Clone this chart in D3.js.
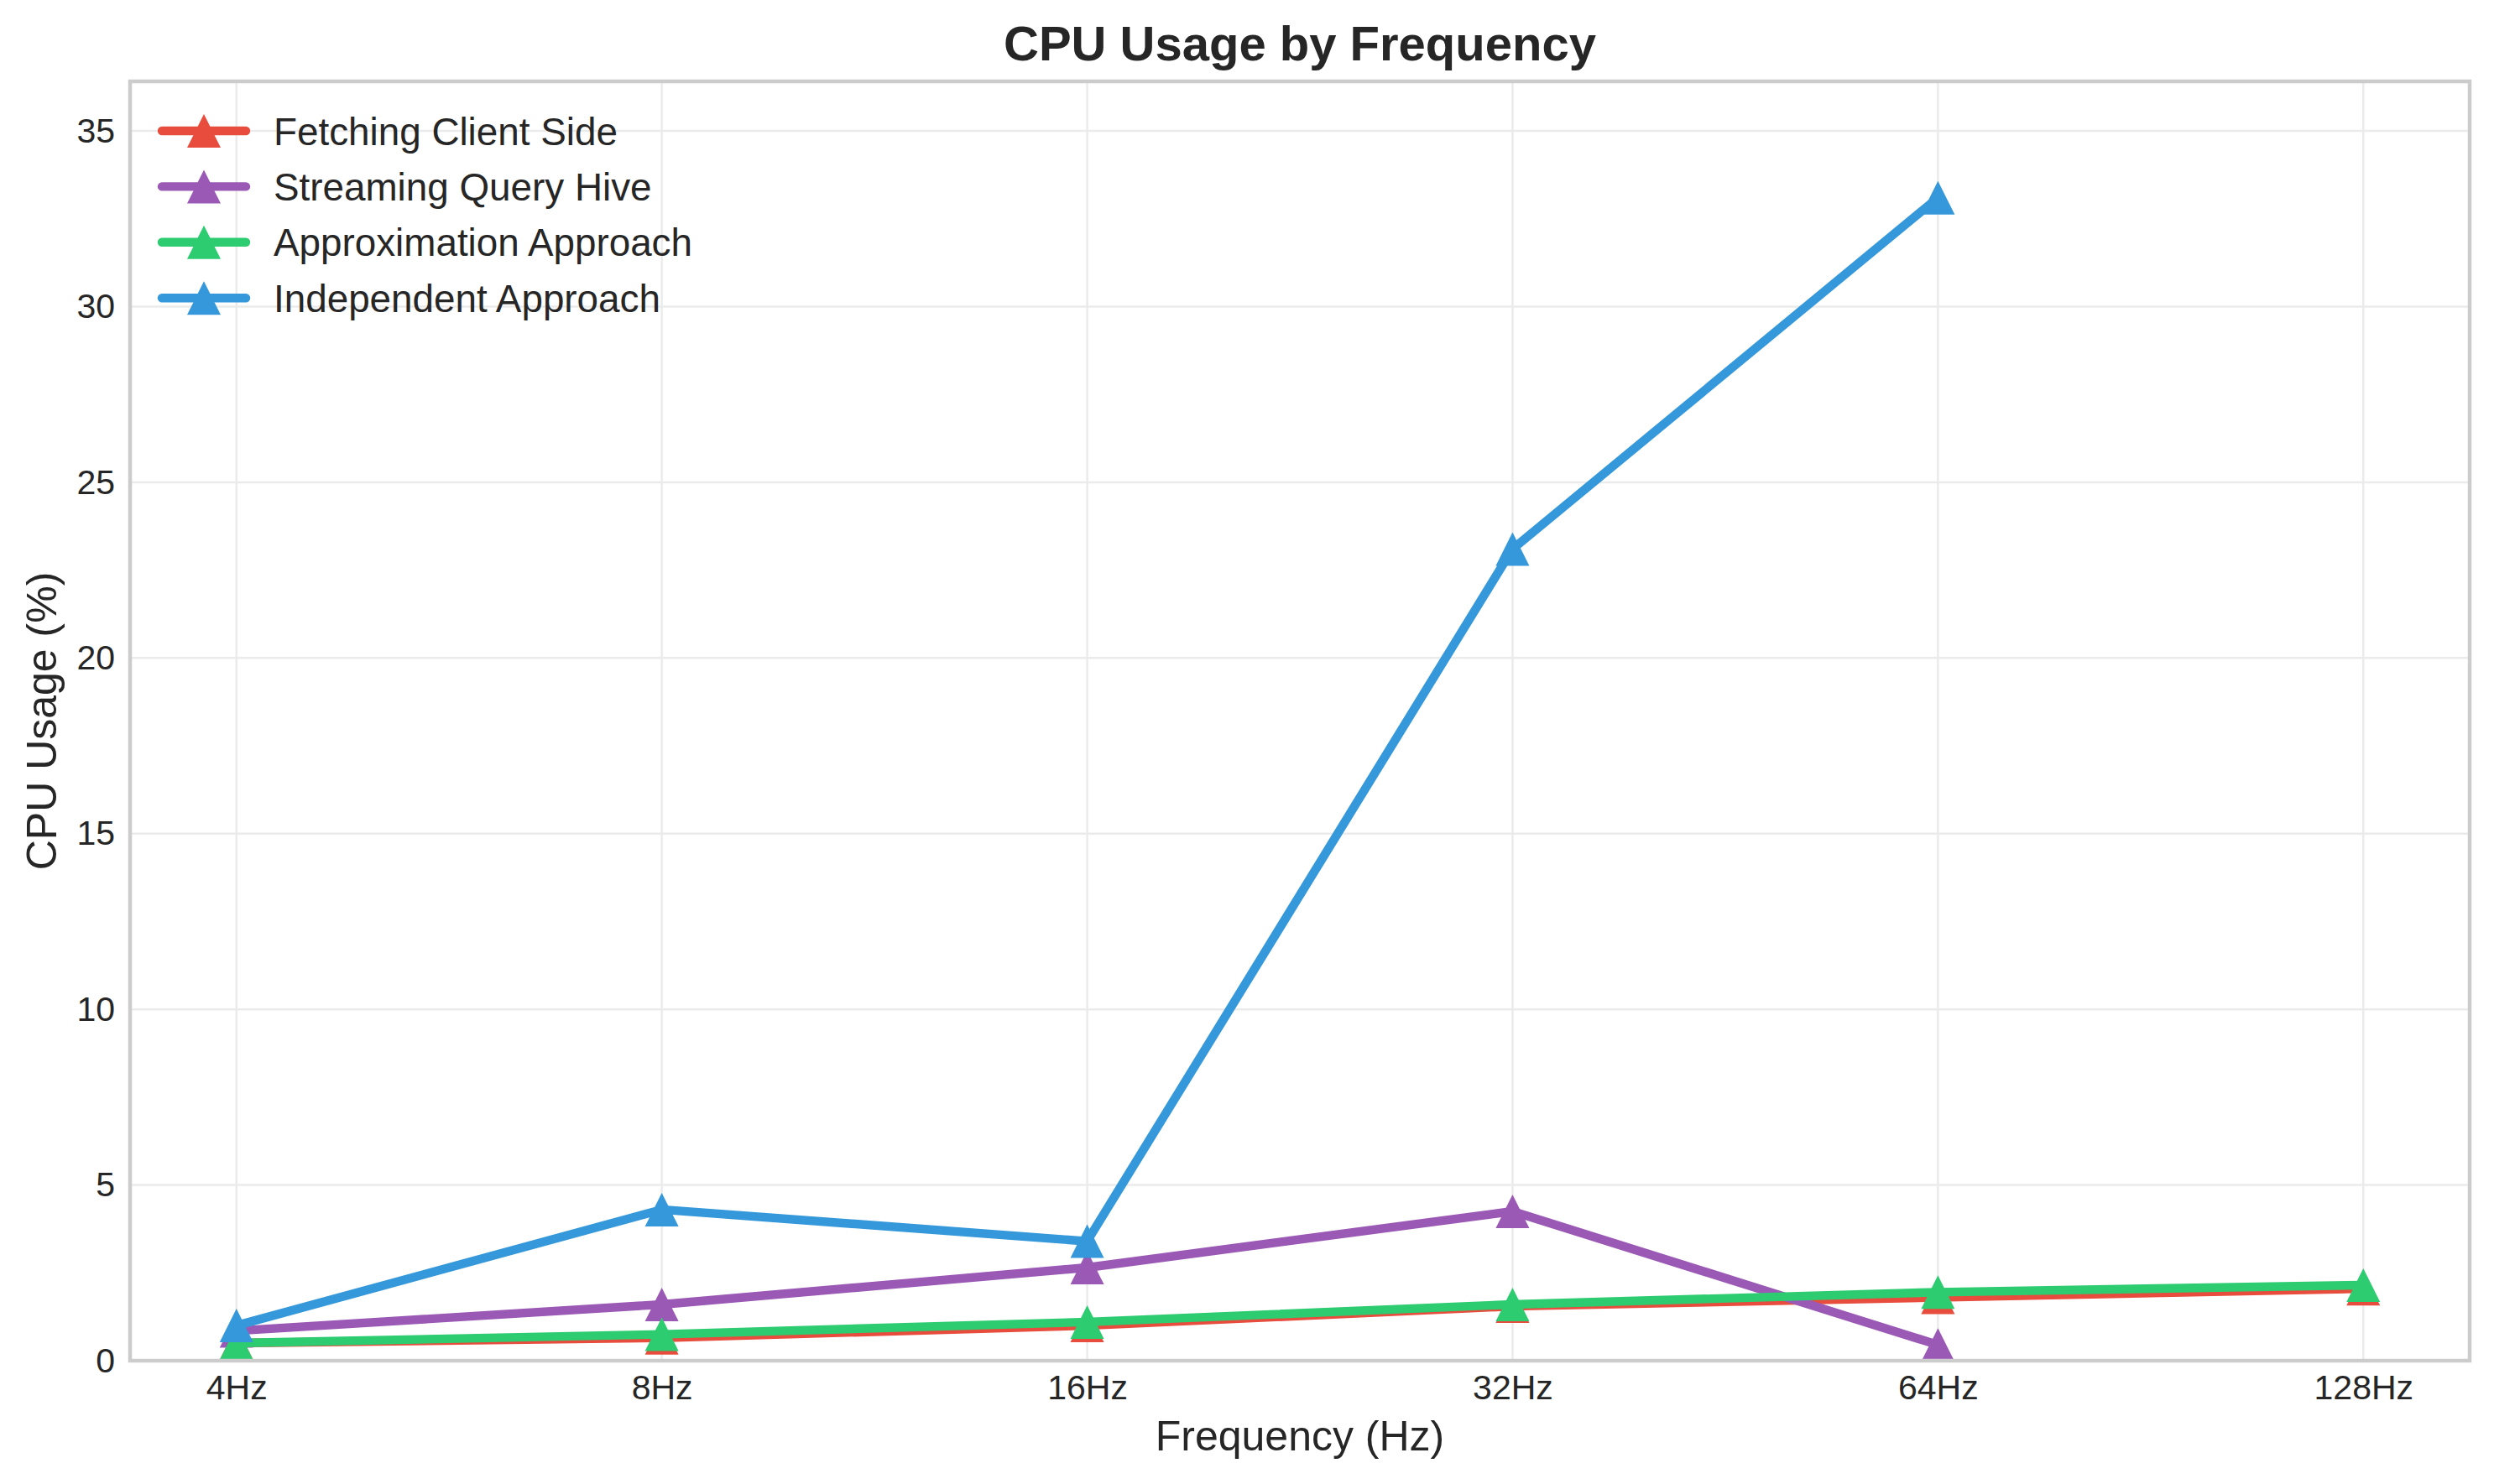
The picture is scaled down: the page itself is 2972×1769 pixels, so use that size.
<!DOCTYPE html>
<head>
  <meta charset="utf-8" />
  <script src="https://d3js.org/d3.v7.min.js"></script>
  <style>
    body {
      margin: 0;
      background: #fff;
    }
    text {
      font-family: "Liberation Sans", Arial, sans-serif;
      fill: #262626;
    }
    .domain {
      display: none;
    }
  </style>
</head>

<body>
  <script>
    // valeurs
    var frequencies = ["4Hz", "8Hz", "16Hz", "32Hz", "64Hz", "128Hz"];
    var fetchingClient = [0.5, 0.65, 1.0, 1.55, 1.8, 2.05];
    var streamingHive = [0.85, 1.6, 2.65, 4.25, 0.45];
    var approximation = [0.5, 0.75, 1.1, 1.6, 1.95, 2.15];
    var independent = [1.0, 4.3, 3.4, 23.1, 33.1];
    var yTicks = [0, 5, 10, 15, 20, 25, 30, 35];

    var seriesNames = [
      "Fetching Client Side",
      "Streaming Query Hive",
      "Approximation Approach",
      "Independent Approach"
    ];
    var seriesColors = ["#e74c3c", "#9b59b6", "#2ecc71", "#3498db"];
    var seriesValues = [fetchingClient, streamingHive, approximation, independent];

    var width = 2972,
      height = 1769;
    var margin = { top: 97, right: 29, bottom: 147, left: 155 };
    var innerW = width - margin.left - margin.right,
      innerH = height - margin.top - margin.bottom;

    var svg = d3
      .select("body")
      .append("svg")
      .attr("width", width)
      .attr("height", height);

    var g = svg
      .append("g")
      .attr("transform", "translate(" + margin.left + "," + margin.top + ")");

    var x = d3.scalePoint().domain(frequencies).range([0, innerW]).padding(0.25);
    var ymax = d3.max(seriesValues, (s) => d3.max(s)) * 1.1;
    var y = d3.scaleLinear().domain([0, ymax]).range([innerH, 0]);

    // grille
    g.selectAll(".hgrid")
      .data(yTicks)
      .enter()
      .append("line")
      .attr("x1", 0)
      .attr("x2", innerW)
      .attr("y1", (d) => y(d))
      .attr("y2", (d) => y(d))
      .attr("stroke", "#ebebeb")
      .attr("stroke-width", 2.5);

    g.selectAll(".vgrid")
      .data(frequencies)
      .enter()
      .append("line")
      .attr("x1", (d) => x(d))
      .attr("x2", (d) => x(d))
      .attr("y1", 0)
      .attr("y2", innerH)
      .attr("stroke", "#ebebeb")
      .attr("stroke-width", 2.5);

    // axes
    var xAxis = g
      .append("g")
      .attr("transform", "translate(0," + innerH + ")")
      .call(d3.axisBottom(x).tickSize(0).tickPadding(17));
    xAxis.selectAll("text").style("font-size", "41px");

    var yAxis = g
      .append("g")
      .call(d3.axisLeft(y).tickValues(yTicks).tickSize(0).tickPadding(18));
    yAxis.selectAll("text").style("font-size", "41px");

    // courbes
    g.append("clipPath")
      .attr("id", "clip")
      .append("rect")
      .attr("width", innerW)
      .attr("height", innerH);

    var line = d3
      .line()
      .x((d, i) => x(frequencies[i]))
      .y((d) => y(d));

    var tri = "M0,-20L20,20L-20,20Z";

    var plot = g.append("g").attr("clip-path", "url(#clip)");
    seriesValues.forEach(function (vals, k) {
      var s = plot.append("g");
      s.append("path")
        .attr("d", line(vals))
        .attr("fill", "none")
        .attr("stroke", seriesColors[k])
        .attr("stroke-width", 10.4)
        .attr("stroke-linejoin", "round")
        .attr("stroke-linecap", "round");
      s.selectAll("path.m")
        .data(vals)
        .enter()
        .append("path")
        .attr("class", "m")
        .attr("d", tri)
        .attr("fill", seriesColors[k])
        .attr("transform", (d, i) => "translate(" + x(frequencies[i]) + "," + y(d) + ")");
    });

    // cadre
    g.append("rect")
      .attr("width", innerW)
      .attr("height", innerH)
      .attr("fill", "none")
      .attr("stroke", "#cccccc")
      .attr("stroke-width", 4.5);

    // légende
    var legend = g.append("g").attr("transform", "translate(38,59)");
    seriesNames.forEach(function (name, k) {
      var row = legend.append("g").attr("transform", "translate(0," + k * 66.4 + ")");
      row.append("line")
        .attr("x1", 0)
        .attr("x2", 100)
        .attr("stroke", seriesColors[k])
        .attr("stroke-width", 10.4)
        .attr("stroke-linecap", "round");
      row.append("path")
        .attr("d", tri)
        .attr("fill", seriesColors[k])
        .attr("transform", "translate(50,0)");
      row.append("text")
        .attr("x", 133)
        .attr("y", 16.5)
        .style("font-size", "45.8px")
        .text(name);
    });

    // titres
    svg.append("text")
      .attr("x", margin.left + innerW / 2)
      .attr("y", 72)
      .attr("text-anchor", "middle")
      .style("font-size", "58px")
      .style("font-weight", "bold")
      .text("CPU Usage by Frequency");

    svg.append("text")
      .attr("x", margin.left + innerW / 2)
      .attr("y", 1729)
      .attr("text-anchor", "middle")
      .style("font-size", "50px")
      .text("Frequency (Hz)");

    svg.append("text")
      .attr("transform", "translate(67," + (margin.top + innerH / 2) + ") rotate(-90)")
      .attr("text-anchor", "middle")
      .style("font-size", "50px")
      .text("CPU Usage (%)");
  </script>
</body>
